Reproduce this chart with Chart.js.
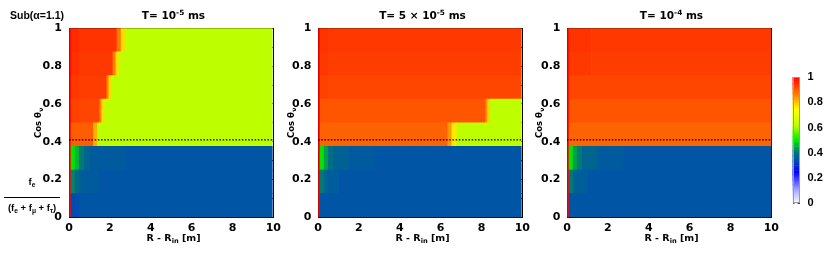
<!DOCTYPE html>
<html><head><meta charset="utf-8">
<script src="https://cdn.jsdelivr.net/npm/chart.js@4.4.1/dist/chart.umd.min.js"></script>
<style>
html,body{margin:0;padding:0;background:#fff;}
#wrap{position:relative;width:830px;height:256px;overflow:hidden;font-family:"DejaVu Sans",sans-serif;font-weight:bold;color:#000;}
canvas{position:absolute;z-index:1;}
.lbl{position:absolute;white-space:nowrap;line-height:1;z-index:5;color:#000;}
.title{font-size:10.5px;text-align:center;width:200px;top:10px;}
.xt{font-size:9.5px;text-align:center;width:200px;top:233px;}
.lib{font-family:"Liberation Sans",Arial,sans-serif;}
sup{font-size:70%;position:relative;top:-0.5em;vertical-align:baseline;}
sub{font-size:70%;position:relative;top:0.3em;vertical-align:baseline;}
</style></head>
<body><div id="wrap">
<canvas id="p1" width="288" height="256" style="left:0;top:0"></canvas>
<canvas id="p2" width="269" height="256" style="left:268px;top:0"></canvas>
<canvas id="p3" width="269" height="256" style="left:517px;top:0"></canvas>
<canvas id="cb" width="50" height="160" style="left:780px;top:60px"></canvas>
<div class="lbl lib" style="left:10px;top:9.5px;font-size:10.5px">Sub(α=1.1)</div>
<div class="lbl title" style="left:73.5px">T= 10<sup>-5</sup> ms</div>
<div class="lbl title" style="left:322.5px">T= 5 × 10<sup>-5</sup> ms</div>
<div class="lbl title" style="left:571.5px">T= 10<sup>-4</sup> ms</div>
<div class="lbl xt" style="left:73.5px">R - R<sub>in</sub> [m]</div>
<div class="lbl xt" style="left:322.5px">R - R<sub>in</sub> [m]</div>
<div class="lbl xt" style="left:571.5px">R - R<sub>in</sub> [m]</div>
<div class="lbl lib" style="left:4px;top:177px;width:56px;text-align:center;font-size:9.5px">
  <div style="height:20px">f<sub>e</sub></div>
  <div style="border-top:1px solid #000;padding-top:5px;height:12px">(f<sub>e</sub> + f<sub>μ</sub> + f<sub>τ</sub>)</div>
</div>
</div>
<script>
// ---- data ----
const rowEdges = [0, 0.125, 0.25, 0.375, 0.5, 0.625, 0.75, 0.875, 1];   // cos θν bins
const cosThetaCut = 0.41;                                              // dotted line
const xRange = [0, 10];
const colorbarRange = [0, 1];
// each row from the bottom bin up; a segment is [end of R - R_in (m), f_e fraction]
const rowsT1 = [
  [[0.1,1.0],[0.5,0.34],[9.95,0.35]],
  [[0.1,1.0],[0.3,0.42],[0.5,0.39],[0.75,0.37],[1.5,0.36],[9.95,0.35]],
  [[0.1,1.0],[0.3,0.5],[0.5,0.46],[0.75,0.41],[1.0,0.38],[2.8,0.36],[9.95,0.35]],
  [[0.1,1.0],[1.2,0.9],[1.4,0.82],[9.95,0.62]],
  [[0.1,1.0],[0.5,0.93],[1.5,0.925],[1.6,0.86],[1.75,0.78],[9.95,0.62]],
  [[0.1,1.0],[0.5,0.94],[1.85,0.935],[1.95,0.86],[2.1,0.78],[9.95,0.62]],
  [[0.1,1.0],[0.5,0.95],[2.15,0.94],[2.3,0.86],[2.45,0.78],[9.95,0.62]],
  [[0.1,1.0],[0.5,0.955],[2.35,0.945],[2.55,0.87],[2.75,0.78],[9.95,0.62]]
];
const rowsT2 = [
  [[0.1,1.0],[9.95,0.35]],
  [[0.1,1.0],[0.3,0.41],[0.5,0.38],[1.0,0.365],[9.95,0.35]],
  [[0.1,1.0],[0.3,0.5],[0.5,0.44],[0.75,0.4],[1.5,0.375],[2.8,0.36],[9.95,0.35]],
  [[0.1,1.0],[6.35,0.895],[6.55,0.84],[6.8,0.77],[9.95,0.62]],
  [[0.1,1.0],[8.2,0.91],[8.3,0.85],[8.42,0.79],[9.95,0.62]],
  [[0.1,1.0],[0.5,0.93],[9.95,0.925]],
  [[0.1,1.0],[0.5,0.94],[9.95,0.935]],
  [[0.1,1.0],[0.5,0.945],[9.95,0.94]]
];
const rowsT3 = [
  [[0.1,1.0],[10,0.35]],
  [[0.1,1.0],[0.3,0.41],[0.5,0.38],[1.0,0.365],[10,0.35]],
  [[0.1,1.0],[0.3,0.5],[0.5,0.44],[0.75,0.41],[1.5,0.38],[2.8,0.36],[10,0.35]],
  [[0.1,1.0],[10,0.893]],
  [[0.1,1.0],[10,0.91]],
  [[0.1,1.0],[10,0.925]],
  [[0.1,1.0],[1.2,0.94],[10,0.935]],
  [[0.1,1.0],[1.2,0.945],[10,0.94]]
];
const yTitleText = 'Cos θ', yTitleSub = 'ν';
// palette (value -> colour), as on the colour bar
const paletteStops  = [0, 0.1, 0.25, 0.35, 0.4, 0.5, 0.62, 0.75, 0.85, 1];
const paletteColors = ['#ffffff','#afafff','#0000ff','#0055a5','#006e82','#00e600','#beff00','#ffff00','#ff8c00','#ff0000'];

// ---- helpers ----
function hexRgb(h){return [1,3,5].map(i=>parseInt(h.substr(i,2),16));}
function colorFor(v){
  if (v <= paletteStops[0]) return paletteColors[0];
  for (let i=1;i<paletteStops.length;i++){
    if (v <= paletteStops[i]){
      const t=(v-paletteStops[i-1])/(paletteStops[i]-paletteStops[i-1]);
      const a=hexRgb(paletteColors[i-1]), b=hexRgb(paletteColors[i]);
      const c=a.map((x,k)=>Math.round(x+(b[k]-x)*t));
      return `rgb(${c[0]},${c[1]},${c[2]})`;
    }
  }
  return paletteColors[paletteColors.length-1];
}
const tickFont = {family:'DejaVu Sans', weight:'bold', size:11};
const fmt = v => String(+(+v).toFixed(1));

// rotated y-axis title with a subscript, drawn on the chart canvas
const yTitlePlugin = {
  id:'yTitle',
  afterDraw(chart, args, opts){
    const {ctx, chartArea} = chart;
    const cx = chartArea.left - opts.offset, cy = (chartArea.top + chartArea.bottom) / 2;
    ctx.save();
    ctx.translate(cx, cy); ctx.rotate(-Math.PI/2);
    ctx.fillStyle = '#000'; ctx.textBaseline = 'middle'; ctx.textAlign = 'left';
    const main = 'bold 8.5px "DejaVu Sans"', small = 'bold 6px "DejaVu Sans"';
    ctx.font = main; const w1 = ctx.measureText(opts.text).width;
    ctx.font = small; const w2 = ctx.measureText(opts.sub).width;
    const x0 = -(w1 + w2 + 0.5) / 2;
    ctx.font = main; ctx.fillText(opts.text, x0, 0);
    ctx.font = small; ctx.fillText(opts.sub, x0 + w1 + 0.5, 2.5);
    ctx.restore();
  }
};

function panel(id, rows, yW, labelPad, titleOffset){
  const datasets = [{
    type:'line', order:-1,
    data:[{x:xRange[0],y:cosThetaCut},{x:xRange[1],y:cosThetaCut}],
    borderColor:'#000', borderWidth:1.3, borderDash:[1.6,1.6], pointRadius:0, fill:false
  }];
  rows.forEach((segs, r) => {
    const yc = (rowEdges[r]+rowEdges[r+1])/2;
    let start = xRange[0];
    const data = segs.map(([end, v]) => { const d = {y:yc, x:[start,end], v}; start = end; return d; });
    datasets.push({type:'bar', indexAxis:'y', order:1, data, grouped:false,
      barPercentage:1, categoryPercentage:1, borderWidth:0,
      backgroundColor: data.map(d => colorFor(d.v))});
  });
  const inward = {drawOnChartArea:false, drawTicks:true, tickLength:-3, color:'#000', lineWidth:1, offset:false};
  return new Chart(document.getElementById(id), {
    type:'bar',
    data:{datasets},
    options:{
      responsive:false, animation:false, devicePixelRatio:1,
      layout:{padding:{left:0,right:10,top:28.3,bottom:0}},
      plugins:{legend:{display:false}, tooltip:{enabled:false},
               yTitle:{text:yTitleText, sub:yTitleSub, offset:titleOffset}},
      scales:{
        x:{type:'linear', position:'bottom', min:xRange[0], max:xRange[1], offset:false, z:1,
           ticks:{stepSize:1, autoSkip:false, maxRotation:0, padding:7, color:'#000', font:tickFont,
                  callback:v => (Math.round(v)%2===0 ? fmt(v) : '')},
           grid:inward, border:{display:true,color:'#000',width:1},
           afterFit:s=>{s.height=38.7;}},
        y:{type:'linear', position:'left', min:0, max:1, offset:false, z:1,
           ticks:{stepSize:0.2, autoSkip:false, padding:labelPad, color:'#000', font:tickFont, callback:v=>fmt(v)},
           grid:inward, border:{display:true,color:'#000',width:1},
           afterFit:s=>{s.width=yW;}},
        x2:{type:'linear', position:'top', min:xRange[0], max:xRange[1], offset:false, z:1,
           ticks:{stepSize:1, display:false}, grid:inward, border:{display:true,color:'#000',width:1},
           afterFit:s=>{s.height=0;}},
        y2:{type:'linear', position:'right', min:0, max:1, offset:false, z:1,
           ticks:{stepSize:0.1, display:false}, grid:inward, border:{display:true,color:'#000',width:1},
           afterFit:s=>{s.width=0;}}
      }
    },
    plugins:[yTitlePlugin]
  });
}
panel('p1', rowsT1, 69, 10, 30.5);
panel('p2', rowsT2, 50, 9.5, 26.5);
panel('p3', rowsT3, 50, 9.5, 27);

// colour bar
const cbSlices = [];
for (let i=0;i<100;i++){ const lo=colorbarRange[0]+i/100, hi=lo+0.01; cbSlices.push({x:'c', y:[lo,hi], v:(lo+hi)/2}); }
const framePlugin = {id:'frame', afterDraw(c){const a=c.chartArea, ctx=c.ctx; ctx.save(); ctx.strokeStyle='#9a9a9a'; ctx.lineWidth=1;
  ctx.strokeRect(Math.round(a.left)+0.5, Math.round(a.top)+0.5, Math.round(a.right-a.left)-1, Math.round(a.bottom-a.top)-1); ctx.restore();}};
new Chart(document.getElementById('cb'), {
  type:'bar',
  data:{labels:['c'], datasets:[{data:cbSlices, barPercentage:1, categoryPercentage:1, borderWidth:0,
    backgroundColor:cbSlices.map(s=>colorFor(s.v))}]},
  options:{
    responsive:false, animation:false, devicePixelRatio:1,
    layout:{padding:{left:12.5,right:0,top:17,bottom:15.5}},
    plugins:{legend:{display:false}, tooltip:{enabled:false}},
    scales:{
      x:{type:'category', display:false, offset:true},
      y:{type:'linear', position:'right', min:colorbarRange[0], max:colorbarRange[1], z:1,
         ticks:{stepSize:0.2, padding:10, color:'#000', font:{family:'Liberation Sans', weight:'bold', size:11}, callback:v=>fmt(v)},
         grid:{drawOnChartArea:false, drawTicks:true, tickLength:-2, color:'#333'}, border:{display:false},
         afterFit:s=>{s.width=30.5;}},
      y2:{type:'linear', position:'left', min:colorbarRange[0], max:colorbarRange[1], z:1,
         ticks:{stepSize:0.2, display:false},
         grid:{drawOnChartArea:false, drawTicks:true, tickLength:-2, color:'#333'}, border:{display:false},
         afterFit:s=>{s.width=0;}}
    }
  },
  plugins:[framePlugin]
});
</script>
</body></html>
